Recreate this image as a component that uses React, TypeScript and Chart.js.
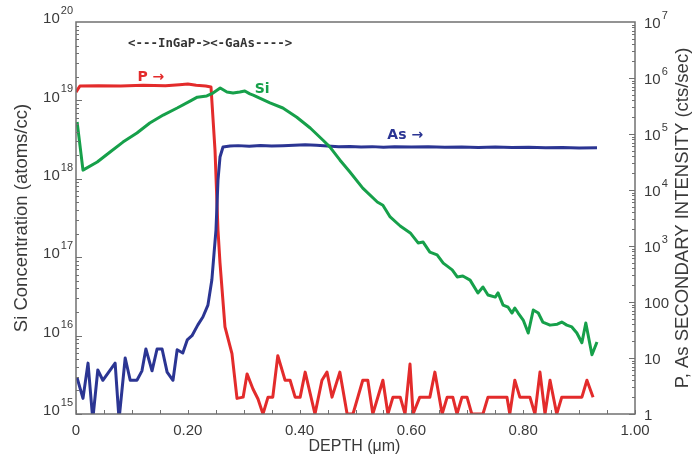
import React, { useEffect, useRef } from 'react';
import { Chart, registerables } from 'chart.js';

Chart.register(...registerables);

// ---------- data ----------
const siDepth = [0.002, 0.0125, 0.038, 0.061, 0.084, 0.109, 0.132, 0.156, 0.181, 0.204, 0.217, 0.234, 0.245, 0.258, 0.27, 0.281, 0.293, 0.302, 0.311, 0.317, 0.347, 0.37, 0.395, 0.419, 0.442, 0.454, 0.472, 0.49, 0.513, 0.539, 0.549, 0.562, 0.58, 0.598, 0.612, 0.621, 0.633, 0.646, 0.657, 0.673, 0.682, 0.692, 0.705, 0.719, 0.728, 0.737, 0.75, 0.755, 0.764, 0.773, 0.78, 0.785, 0.791, 0.8, 0.809, 0.818, 0.827, 0.835, 0.848, 0.861, 0.869, 0.878, 0.887, 0.896, 0.905, 0.912, 0.923, 0.932];
const siConc = [5.3e18, 1.29e18, 1.64e18, 2.2e18, 2.94e18, 3.84e18, 5.15e18, 6.5e18, 8.0e18, 9.8e18, 1.1e19, 1.14e19, 1.24e19, 1.44e19, 1.28e19, 1.24e19, 1.28e19, 1.32e19, 1.21e19, 1.17e19, 9.3e18, 8.0e18, 6.1e18, 4.45e18, 3.1e18, 2.55e18, 1.74e18, 1.22e18, 7.6e17, 5.06e17, 4.6e17, 3.26e17, 2.5e17, 2.04e17, 1.52e17, 1.56e17, 1.16e17, 1.07e17, 8.4e16, 6.9e16, 5.6e16, 5.75e16, 5.1e16, 3.5e16, 4.17e16, 3.3e16, 3.1e16, 3.5e16, 2.45e16, 2.3e16, 1.94e16, 2.25e16, 1.94e16, 1.58e16, 1.08e16, 2.12e16, 1.94e16, 1.49e16, 1.36e16, 1.4e16, 1.49e16, 1.36e16, 1.29e16, 1.08e16, 8.1e15, 1.45e16, 5.7e15, 8.3e15];

const pDepth = [0.0, 0.007, 0.04, 0.08, 0.12, 0.16, 0.185, 0.2, 0.215, 0.232, 0.2415, 0.2487, 0.254, 0.2576, 0.2665, 0.279, 0.288, 0.299, 0.306, 0.3166, 0.3256, 0.3345, 0.3435, 0.352, 0.361, 0.374, 0.383, 0.392, 0.401, 0.41, 0.4275, 0.44, 0.449, 0.458, 0.472, 0.485, 0.4955, 0.513, 0.522, 0.531, 0.549, 0.558, 0.567, 0.58, 0.5886, 0.5975, 0.603, 0.615, 0.633, 0.642, 0.655, 0.664, 0.674, 0.6816, 0.6905, 0.6995, 0.708, 0.728, 0.737, 0.771, 0.776, 0.785, 0.794, 0.812, 0.821, 0.83, 0.839, 0.848, 0.86, 0.869, 0.905, 0.914, 0.925];
const pIntensity = [5.6e5, 7.2e5, 7.3e5, 7.2e5, 7.4e5, 7.3e5, 7.6e5, 7.8e5, 7.4e5, 7.2e5, 6.9e5, 5.1e4, 1930, 500, 36, 12, 1.9, 2, 5.2, 2.8, 1.85, 1, 2, 2, 11, 4, 4, 2, 2, 5.6, 1, 4, 5.6, 2, 5.6, 1, 1, 4, 4, 1, 4, 1, 2, 2, 1, 7.8, 1, 2, 2, 5.6, 1, 2, 2, 1, 2, 2, 1, 1, 2, 2, 1, 4, 2, 2, 1, 5.6, 1, 4, 1, 2, 2, 4, 2];

const asDepth = [0.002, 0.0125, 0.0215, 0.03, 0.039, 0.048, 0.07, 0.077, 0.088, 0.097, 0.109, 0.118, 0.125, 0.136, 0.145, 0.154, 0.163, 0.1735, 0.181, 0.191, 0.199, 0.2075, 0.218, 0.227, 0.236, 0.243, 0.247, 0.2504, 0.254, 0.2576, 0.263, 0.2755, 0.29, 0.31, 0.33, 0.35, 0.37, 0.39, 0.41, 0.43, 0.45, 0.47, 0.49, 0.51, 0.53, 0.55, 0.57, 0.6, 0.63, 0.66, 0.69, 0.72, 0.75, 0.78, 0.81, 0.84, 0.87, 0.9, 0.932];
const asIntensity = [4.4, 1.9, 8.1, 0.8, 6.1, 4.0, 8.1, 0.8, 10, 4, 4, 5.9, 14.5, 5.9, 14.5, 14.5, 5.6, 4, 14, 12.3, 21, 25, 39, 54, 88, 247, 750, 1930, 15000, 38800, 58600, 61000, 62000, 60500, 62500, 61000, 62000, 63000, 64500, 63000, 61000, 59000, 60000, 58500, 59500, 58000, 59000, 58500, 59500, 58000, 58500, 57500, 58500, 57500, 58000, 57000, 57500, 56500, 57000];

const depthTicks = [0, 0.2, 0.4, 0.6, 0.8, 1.0];
const depthTickLabels = ['0', '0.20', '0.40', '0.60', '0.80', '1.00'];
const depthMinorStep = 0.05;
const siTickValues = [1e15, 1e16, 1e17, 1e18, 1e19, 1e20];
const siTickLabels = [['10', '15'], ['10', '16'], ['10', '17'], ['10', '18'], ['10', '19'], ['10', '20']];
const intTickValues = [1, 10, 100, 1e3, 1e4, 1e5, 1e6, 1e7];
const intTickLabels = [['1', ''], ['10', ''], ['100', ''], ['10', '3'], ['10', '4'], ['10', '5'], ['10', '6'], ['10', '7']];

const xTitle = 'DEPTH (\u03bcm)';
const ySiTitle = 'Si Concentration (atoms/cc)';
const yIntTitle = 'P, As SECONDARY INTENSITY (cts/sec)';
const layerText = '<---InGaP-><-GaAs---->';
// annotation anchors: [text, depth, value, axis, colour]
const annotations: [string, number, number, string, string][] = [
  ['P \u2192', 0.134, 1.04e6, 'yInt', '#e32b2b'],
  ['Si', 0.333, 1.4e19, 'ySi', '#16a04a'],
  ['As \u2192', 0.589, 9.6e4, 'yInt', '#2b3593'],
];
const layerAnchor = [0.24, 4.05e6];

const RED = '#e32b2b';
const GREEN = '#16a04a';
const BLUE = '#2b3593';
const AXIS = '#707070';
const TEXT = '#3a3a3a';
const FONT = '"Liberation Sans", Arial, Helvetica, sans-serif';

function drawPow(ctx: CanvasRenderingContext2D, base: string, exp: string, x: number, y: number, align: 'left' | 'right') {
  ctx.font = `15px ${FONT}`;
  const wb = ctx.measureText(base).width;
  ctx.font = `11px ${FONT}`;
  const we = exp ? ctx.measureText(exp).width + 1 : 0;
  const start = align === 'right' ? x - wb - we : x;
  ctx.textAlign = 'left';
  ctx.textBaseline = 'middle';
  ctx.font = `15px ${FONT}`;
  ctx.fillText(base, start, y);
  if (exp) {
    ctx.font = `11px ${FONT}`;
    ctx.fillText(exp, start + wb + 1, y - 8);
  }
}

const decorPlugin = {
  id: 'decor',
  afterDatasetsDraw(chart: any) {
    const { ctx, chartArea: a, scales } = chart;
    const xs = scales.x, ys = scales.ySi, yi = scales.yInt;
    ctx.save();
    ctx.strokeStyle = AXIS;
    ctx.lineWidth = 1.5;
    ctx.strokeRect(a.left, a.top, a.right - a.left, a.bottom - a.top);
    ctx.lineWidth = 1;
    ctx.beginPath();
    for (let e = 15; e < 20; e++) {
      for (let m = 1; m < 10; m++) {
        const py = Math.round(ys.getPixelForValue(m * Math.pow(10, e))) + 0.5;
        const len = m === 1 ? 6 : 3;
        ctx.moveTo(a.left, py); ctx.lineTo(a.left + len, py);
      }
    }
    for (let e = 0; e < 7; e++) {
      for (let m = 1; m < 10; m++) {
        const py = Math.round(yi.getPixelForValue(m * Math.pow(10, e))) + 0.5;
        const len = m === 1 ? 6 : 3;
        ctx.moveTo(a.right, py); ctx.lineTo(a.right - len, py);
      }
    }
    for (let i = 0; i * depthMinorStep <= 1.0001; i++) {
      const px = Math.round(xs.getPixelForValue(i * depthMinorStep)) + 0.5;
      ctx.moveTo(px, a.bottom); ctx.lineTo(px, a.bottom - 4);
    }
    ctx.stroke();

    ctx.fillStyle = TEXT;
    ctx.font = `15px ${FONT}`;
    ctx.textAlign = 'center';
    ctx.textBaseline = 'middle';
    depthTicks.forEach((v, i) => {
      ctx.fillText(depthTickLabels[i], xs.getPixelForValue(v), a.bottom + 17);
    });
    siTickValues.forEach((v, i) => {
      drawPow(ctx, siTickLabels[i][0], siTickLabels[i][1], a.left - 3, ys.getPixelForValue(v) - 3, 'right');
    });
    intTickValues.forEach((v, i) => {
      drawPow(ctx, intTickLabels[i][0], intTickLabels[i][1], a.right + 9, yi.getPixelForValue(v) + 2, 'left');
    });
    ctx.font = `16px ${FONT}`;
    ctx.textAlign = 'center';
    ctx.fillText(xTitle, (a.left + a.right) / 2 - 1, a.bottom + 33);
    ctx.save();
    ctx.translate(22, (a.top + a.bottom) / 2);
    ctx.rotate(-Math.PI / 2);
    ctx.font = `18.5px ${FONT}`;
    ctx.fillText(ySiTitle, 0, 0);
    ctx.restore();
    ctx.save();
    ctx.translate(683, (a.top + a.bottom) / 2);
    ctx.rotate(-Math.PI / 2);
    ctx.font = `18.5px ${FONT}`;
    ctx.fillText(yIntTitle, 0, 0);
    ctx.restore();

    annotations.forEach(([t, d, v, axis, col]) => {
      ctx.fillStyle = col;
      ctx.font = 'bold 14px "DejaVu Sans", sans-serif';
      ctx.fillText(t, xs.getPixelForValue(d), scales[axis].getPixelForValue(v));
    });
    ctx.fillStyle = '#333333';
    ctx.font = 'bold 12.4px "DejaVu Sans Mono", monospace';
    ctx.fillText(layerText, xs.getPixelForValue(layerAnchor[0]), yi.getPixelForValue(layerAnchor[1]));
    ctx.restore();
  },
};

export default function App() {
  const ref = useRef<HTMLCanvasElement | null>(null);
  useEffect(() => {
    document.body.style.margin = '0';
    const canvas = ref.current;
    if (!canvas) return;
    const toPts = (xs: number[], ys: number[]) => xs.map((x, i) => ({ x, y: ys[i] }));
    const chart = new Chart(canvas, {
      type: 'line',
      data: {
        datasets: [
          { label: 'Si', data: toPts(siDepth, siConc), yAxisID: 'ySi', borderColor: GREEN, borderWidth: 3, pointRadius: 0, tension: 0, order: 0, borderJoinStyle: 'round' } as any,
          { label: 'As', data: toPts(asDepth, asIntensity), yAxisID: 'yInt', borderColor: BLUE, borderWidth: 3, pointRadius: 0, tension: 0, order: 1, borderJoinStyle: 'round' } as any,
          { label: 'P', data: toPts(pDepth, pIntensity), yAxisID: 'yInt', borderColor: RED, borderWidth: 3, pointRadius: 0, tension: 0, order: 2, borderJoinStyle: 'round' } as any,
        ],
      },
      options: {
        animation: false,
        responsive: false,
        maintainAspectRatio: false,
        devicePixelRatio: 1,
        layout: { padding: { left: 76, right: 59, top: 22, bottom: 47 } },
        scales: {
          x: { type: 'linear', min: 0, max: 1, display: false },
          ySi: { type: 'logarithmic', position: 'left', min: 1e15, max: 1e20, display: false },
          yInt: { type: 'logarithmic', position: 'right', min: 1, max: 1e7, display: false },
        },
        plugins: { legend: { display: false }, tooltip: { enabled: false } },
        events: [],
      },
      plugins: [decorPlugin],
    });
    return () => chart.destroy();
  }, []);
  return (
    <div style={{ width: 694, height: 461, background: '#fff' }}>
      <canvas ref={ref} width={694} height={461} style={{ display: 'block' }} />
    </div>
  );
}
